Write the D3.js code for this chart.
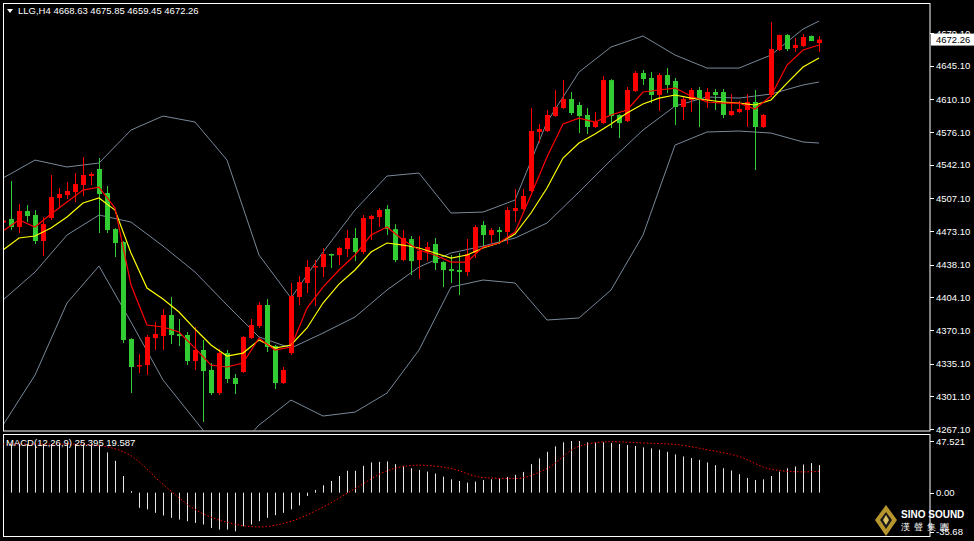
<!DOCTYPE html>
<html><head><meta charset="utf-8">
<script src="https://cdn.jsdelivr.net/npm/d3@7/dist/d3.min.js"></script>
<style>body{margin:0;background:#000}svg{display:block}text{font-family:"Liberation Sans",Arial,sans-serif}</style>
</head><body>
<script>
const opens=[4482,4485.6,4477.2,4493.9,4489.7,4462.7,4486.6,4507.4,4510.5,4513.6,4520.9,4530.3,4537.6,4512.6,4475.1,4461.6,4360.7,4332.6,4333.6,4361.7,4363.8,4385.7,4365.9,4364.9,4337.8,4349.3,4328.5,4304.5,4346.1,4320.1,4326.4,4361.7,4374.2,4396.1,4353.4,4314.9,4346.1,4404.4,4419.0,4435.6,4435.6,4449.1,4448.1,4454.3,4465.8,4451.2,4485.6,4487.6,4495.9,4475.1,4442.9,4464.7,4442.9,4451.2,4459.5,4440.8,4433.5,4432.5,4430.4,4450.2,4479.3,4468.9,4474.1,4472.0,4493.9,4495.9,4514.7,4576.1,4577.1,4592.7,4601.0,4610.4,4604.2,4593.8,4581.3,4585.4,4630.1,4593.8,4587.5,4618.7,4637.5,4632.3,4614.6,4635.4,4629.1,4602.1,4609.4,4619.8,4609.4,4617.7,4617.7,4593.8,4596.9,4599.0,4607.3,4581.3,4614.6,4661.4,4677.0,4663.5,4665.5,4676.0,4668.63];
const highs=[4499,4525.1,4501.2,4500.1,4494.9,4487.6,4531.3,4517.8,4524.0,4533.4,4550.1,4534.4,4549.0,4519.9,4476.0,4462.5,4361.5,4345.1,4364.9,4378.4,4391.9,4404.4,4381.5,4368.0,4373.2,4359.7,4335.7,4350.3,4349.3,4324.3,4363.8,4381.5,4399.2,4402.3,4354.5,4331.6,4419.0,4426.2,4442.9,4442.9,4455.4,4449.6,4456.4,4474.1,4476.2,4489.7,4489.7,4497.0,4500.1,4480.3,4474.1,4467.9,4467.9,4461.6,4465.8,4441.6,4448.1,4450.2,4464.7,4479.3,4483.5,4476.2,4477.2,4498.0,4516.8,4516.8,4601.0,4584.4,4599.0,4619.8,4630.1,4617.7,4607.3,4601.0,4596.9,4634.3,4631.0,4594.5,4622.9,4639.5,4640.6,4638.5,4637.5,4642.6,4632.3,4612.5,4621.8,4622.9,4621.8,4620.8,4620.8,4615.6,4608.3,4615.6,4619.8,4594.8,4690.5,4677.5,4678.0,4673.9,4678.0,4676.5,4675.85];
const lows=[4481,4474.1,4471.0,4482.4,4459.5,4447.1,4484.5,4498.0,4506.4,4503.2,4509.5,4520.9,4471.0,4471.0,4446.0,4356.5,4304.5,4325.3,4323.2,4349.3,4349.3,4355.5,4353.4,4333.6,4328.5,4274.4,4302.4,4302.4,4314.9,4303.5,4325.4,4360.7,4372.2,4347.2,4308.7,4313.9,4344.1,4396.1,4408.6,4395.0,4425.2,4434.6,4437.7,4446.0,4441.8,4449.1,4463.7,4477.2,4468.9,4440.8,4441.8,4427.3,4423.1,4441.8,4432.5,4414.8,4419.0,4406.5,4426.2,4445.0,4456.4,4460.6,4459.5,4459.5,4482.4,4494.9,4513.5,4564.6,4576.1,4592.0,4600.0,4593.8,4575.0,4574.0,4580.3,4584.4,4580.2,4569.8,4586.5,4617.7,4625.0,4606.2,4597.9,4616.6,4583.3,4588.6,4596.9,4581.3,4601.0,4599.0,4590.6,4592.7,4595.9,4581.3,4536.5,4580.2,4612.5,4660.3,4660.3,4659.3,4664.5,4670.7,4659.45];
const closes=[4484,4477.2,4493.9,4488.7,4462.7,4480.3,4508.4,4511.6,4514.7,4521.9,4531.3,4532.4,4511.6,4474.1,4460.6,4359.7,4331.6,4333.6,4362.8,4365.9,4385.7,4364.9,4363.8,4337.8,4349.3,4327.4,4304.5,4346.1,4319.1,4313.9,4362.8,4375.3,4396.1,4352.4,4314.9,4328.5,4405.4,4420.0,4435.6,4436.7,4449.1,4448.1,4455.4,4465.8,4451.2,4486.6,4488.7,4494.9,4475.1,4442.9,4465.8,4441.8,4452.3,4456.4,4439.8,4432.5,4431.4,4430.4,4449.1,4477.2,4468.9,4474.1,4472.0,4494.9,4497.0,4509.5,4577.1,4579.2,4593.8,4602.1,4610.4,4595.8,4592.7,4581.3,4586.5,4630.1,4592.7,4585.4,4619.8,4637.5,4631.2,4614.6,4635.4,4625.0,4602.1,4610.4,4619.8,4609.4,4617.7,4614.6,4593.8,4597.9,4600.0,4607.3,4581.3,4593.8,4662.4,4677.0,4662.4,4666.6,4674.9,4670.7,4672.26];
// Bollinger bands sampled every 4 bars (bar 0,4,...,100,102)
const bandIdx=[0,4,8,12,16,20,24,28,32,36,40,44,48,52,56,60,64,68,72,76,80,84,88,92,96,100,102];
const bbUpper=[4528.2,4546.9,4539.7,4543.8,4578.1,4592.7,4586.5,4546.9,4448.1,4403.4,4451.2,4494.9,4530.3,4533.4,4491.8,4492.8,4505.3,4586.5,4638.5,4664.5,4676.0,4656.2,4642.6,4642.6,4656.2,4683.2,4691.5];
const bbMiddle=[4401.3,4430.4,4468.9,4489.7,4482.4,4457.4,4430.4,4396.1,4362.8,4351.3,4366.9,4383.6,4411.7,4435.6,4450.2,4457.4,4465.8,4481.4,4513.6,4546.9,4578.1,4603.1,4612.5,4611.4,4615.6,4625.0,4628.1];
const bbLower=[4271.2,4323.2,4398.2,4436.7,4378.4,4318.1,4276.4,4234.8,4271.2,4297.2,4280.6,4284.7,4304.5,4349.3,4414.8,4422.1,4419.0,4380.5,4382.6,4411.7,4468.9,4562.5,4576.1,4577.1,4575.0,4565.7,4564.6];
// moving averages sampled every 2 bars (bar 0,2,...,102)
const maFast=[4473.1,4484.5,4477.2,4490.7,4503.2,4515.7,4518.8,4497.0,4416.9,4375.3,4373.2,4368.0,4351.3,4333.6,4331.6,4335.7,4361.7,4349.3,4352.4,4392.9,4414.8,4432.5,4448.1,4468.9,4477.2,4463.7,4453.3,4448.1,4440.8,4440.8,4456.4,4460.6,4472.0,4510.5,4550.1,4584.4,4590.6,4586.5,4593.8,4599.0,4617.7,4619.8,4621.8,4613.5,4607.3,4606.2,4606.2,4600.0,4613.5,4645.8,4661.4,4666.6];
const maSlow=[4453.3,4465.8,4467.9,4476.2,4487.6,4502.2,4507.4,4494.9,4450.2,4413.8,4402.3,4388.8,4371.1,4354.5,4343.0,4346.1,4359.7,4351.3,4354.5,4372.2,4398.2,4417.9,4432.5,4451.2,4460.6,4458.5,4455.4,4450.2,4445.0,4448.1,4455.4,4460.6,4469.9,4491.8,4517.8,4549.0,4564.6,4574.0,4584.4,4595.8,4605.2,4611.4,4614.6,4611.4,4609.4,4607.3,4606.2,4604.2,4609.4,4627.0,4643.7,4653.1];
const macdHist=[44.7,44.7,44.7,44.7,44.7,44.7,44.7,44.7,44.7,44.7,44.7,44.7,43.2,37.0,29.3,15.4,1.5,-13.9,-15.4,-18.5,-21.0,-23.1,-24.7,-26.2,-27.8,-29.3,-32.4,-33.9,-33.9,-35.5,-30.9,-29.3,-26.2,-23.1,-20.7,-18.5,-15.4,-11.7,-3.1,2.5,6.8,10.8,15.4,20.1,20.1,24.7,27.8,28.4,28.7,26.2,24.7,22.5,21.0,19.4,17.6,14.8,12.3,10.8,9.3,10.2,11.7,12.3,13.3,14.5,16.4,19.1,26.2,31.5,37.6,42.6,46.3,47.5,47.5,46.3,46.3,46.3,45.7,44.7,43.8,42.9,41.7,40.7,39.5,37.6,35.2,33.3,31.8,30.2,27.8,25.3,22.5,20.4,17.0,13.6,11.7,12.3,15.4,19.4,22.5,24.1,25.9,27.2,25.395];
const signalIdx=[0,4,8,12,16,20,24,28,32,36,40,44,48,52,56,60,64,68,72,76,80,84,88,92,96,100,102];
const macdSignal=[44.7,44.7,44.7,43.2,33.9,7.7,-15.4,-27.2,-31.5,-26.2,-13.3,3.7,20.1,25.3,22.2,13.9,13.0,22.2,42.6,46.9,45.7,44.4,39.5,33.3,21.6,19.1,19.587];
const priceTicks=["4679.10","4645.10","4610.10","4576.10","4542.10","4507.10","4473.10","4438.10","4404.10","4370.10","4335.10","4301.10","4267.10"];
const macdTicks=["47.521","0.00","-35.68"];
const header="LLG,H4  4668.63 4675.85 4659.45 4672.26";
const macdLabel="MACD(12,26,9) 25.395 19.587";

const W=974,H=541;
const svg=d3.select("body").append("svg").attr("width",W).attr("height",H);
svg.append("rect").attr("width",W).attr("height",H).attr("fill","#000");
const x=d3.scaleLinear().domain([0,102]).range([3,819]);
const y=d3.scaleLinear().domain([4267.1,4679.1]).range([429,33]);
const ym=d3.scaleLinear().domain([-35.68,47.521]).range([531.5,441]);
const defs=svg.append("defs");
defs.append("clipPath").attr("id","cm").append("rect").attr("x",3.5).attr("y",3.5).attr("width",926).attr("height",427);
defs.append("clipPath").attr("id","cd").append("rect").attr("x",3.5).attr("y",435).attr("width",926).attr("height",101);
const gm=svg.append("g").attr("clip-path","url(#cm)");
const line=(idx,vals,ys)=>d3.line().x((d,i)=>x(idx[i])).y(d=>ys(d))(vals);
const idx2=maFast.map((d,i)=>i*2);
[bbUpper,bbMiddle,bbLower].forEach(b=>gm.append("path").attr("d",line(bandIdx,b,y)).attr("fill","none").attr("stroke","#778899").attr("stroke-width",1));
const bars=opens.map((o,i)=>({i,o,h:highs[i],l:lows[i],c:closes[i]}));
bars.forEach(b=>{
  const col=b.c>=b.o?"#ff0000":"#32cd32";
  const cx=Math.round(x(b.i))+0.5;
  gm.append("line").attr("x1",cx).attr("x2",cx).attr("y1",y(b.h)).attr("y2",y(b.l)).attr("stroke",col);
  const t=y(Math.max(b.o,b.c)),bt=y(Math.min(b.o,b.c));
  gm.append("rect").attr("x",cx-2.5).attr("width",5).attr("y",t).attr("height",Math.max(1.5,bt-t)).attr("fill",col);
});
gm.append("path").attr("d",line(idx2,maSlow,y)).attr("fill","none").attr("stroke","#ffff00").attr("stroke-width",1.2);
gm.append("path").attr("d",line(idx2,maFast,y)).attr("fill","none").attr("stroke","#ff0000").attr("stroke-width",1.2);

// frames
svg.append("rect").attr("x",3.5).attr("y",3.5).attr("width",926.5).attr("height",427.5).attr("fill","none").attr("stroke","#fff");
svg.append("rect").attr("x",3.5).attr("y",434.5).attr("width",926.5).attr("height",102).attr("fill","none").attr("stroke","#fff");
// price axis
const ga=svg.append("g");
priceTicks.forEach(t=>{
  const yy=y(+t);
  ga.append("line").attr("x1",930).attr("x2",934).attr("y1",Math.round(yy)+0.5).attr("y2",Math.round(yy)+0.5).attr("stroke","#fff");
  ga.append("text").attr("x",936).attr("y",yy+3.5).attr("fill","#fff").attr("font-size",9.5).text(t);
});
const lastY=y(closes[closes.length-1]);
ga.append("rect").attr("x",931).attr("y",lastY-6).attr("width",43).attr("height",12).attr("fill","#fff");
ga.append("text").attr("x",936).attr("y",lastY+3.5).attr("fill","#000").attr("font-size",9.5).text(closes[closes.length-1].toFixed(2));
// header
svg.append("path").attr("d","M7,9 L13,9 L10,13 Z").attr("fill","#fff");
svg.append("text").attr("x",18).attr("y",14).attr("fill","#fff").attr("font-size",9.5).text(header);

// MACD
const gd=svg.append("g").attr("clip-path","url(#cd)");
macdHist.forEach((v,i)=>{
  const cx=Math.round(x(i))+0.5;
  gd.append("line").attr("x1",cx).attr("x2",cx).attr("y1",ym(0)).attr("y2",ym(v)).attr("stroke","#e8e8e8");
});
gd.append("path").attr("d",d3.line().curve(d3.curveMonotoneX).x((d,i)=>x(signalIdx[i])).y(d=>ym(d))(macdSignal))
  .attr("fill","none").attr("stroke","#ff0000").attr("stroke-width",1).attr("stroke-dasharray","1.5,2");
svg.append("text").attr("x",6).attr("y",446).attr("fill","#fff").attr("font-size",9.5).text(macdLabel);
macdTicks.forEach(t=>{
  const yy=ym(+t);
  svg.append("line").attr("x1",930).attr("x2",934).attr("y1",Math.round(yy)+0.5).attr("y2",Math.round(yy)+0.5).attr("stroke","#fff");
  svg.append("text").attr("x",936).attr("y",yy+3.5).attr("fill","#fff").attr("font-size",9.5).text(t);
});
// logo
const lg=svg.append("g");
lg.append("path").attr("d","M886,505 L897,520 L886,536 L875,520 Z").attr("fill","#b8962e");
lg.append("path").attr("d","M886,512 L892,520 L886,529 L880,520 Z").attr("fill","#1a1a1a");
lg.append("path").attr("d","M886,515 L889,520 L886,525 L883,520 Z").attr("fill","#d9c060");
lg.append("text").attr("x",901).attr("y",518).attr("fill","#fff").attr("font-size",10).attr("font-weight","bold").text("SINO SOUND");
lg.append("text").attr("x",901).attr("y",530).attr("fill","#fff").attr("font-size",9).attr("font-family","Noto Sans CJK TC").attr("letter-spacing",4).text("漢聲集團");
</script>
</body></html>
